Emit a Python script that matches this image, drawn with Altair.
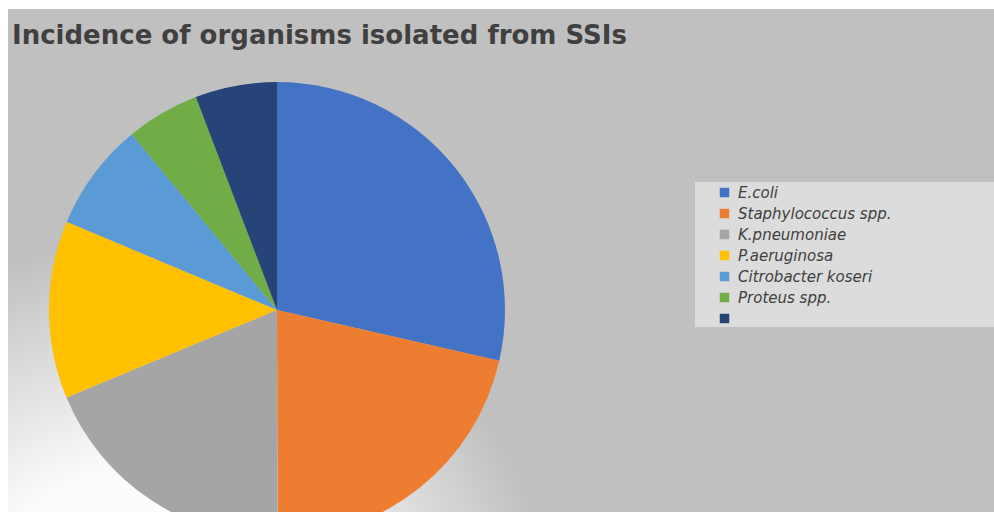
import altair as alt
import pandas as pd

# Data (percent share of isolates)
organisms = ["E.coli", "Staphylococcus spp.", "K.pneumoniae", "P.aeruginosa",
             "Citrobacter koseri", "Proteus spp.", "Other"]
shares = [28.6, 21.4, 18.8, 12.6, 7.7, 5.2, 5.8]
colors = ["#4472C4", "#ED7D31", "#A5A5A5", "#FFC000", "#5B9BD5", "#70AD47", "#264478"]
title_text = "Incidence of organisms isolated from SSIs"

df = pd.DataFrame({"organism": organisms, "share": shares, "order": list(range(len(organisms)))})

W, H = 994, 512

bg = alt.Chart(pd.DataFrame({"k": [0]})).mark_rect(
    color=alt.Gradient(
        gradient="radial",
        stops=[alt.GradientStop(color="#ffffff", offset=0),
               alt.GradientStop(color="#fbfbfb", offset=0.45),
               alt.GradientStop(color="#d6d6d6", offset=0.8),
               alt.GradientStop(color="#c0c0c0", offset=1)],
        x1=0.14, y1=0.9, r1=0, x2=0.14, y2=0.9, r2=0.42,
    )
).encode(x=alt.value(8), x2=alt.value(W), y=alt.value(9), y2=alt.value(H))

legend_box = alt.Chart(pd.DataFrame({"k": [0]})).mark_rect(color="#dcdcdc").encode(
    x=alt.value(695), x2=alt.value(W), y=alt.value(182), y2=alt.value(327)
)

pie = alt.Chart(df).mark_arc(outerRadius=228, stroke=None).encode(
    theta=alt.Theta("share:Q", stack=True),
    order=alt.Order("order:Q"),
    color=alt.Color(
        "organism:N",
        scale=alt.Scale(domain=organisms, range=colors),
        sort=organisms,
        legend=alt.Legend(
            title=None,
            orient="none",
            legendX=717,
            legendY=185,
            symbolType="square",
            symbolSize=90,
            symbolStrokeWidth=0,
            labelFont="DejaVu Sans",
            labelFontStyle="italic",
            labelFontSize=15,
            labelColor="#404040",
            labelOffset=6,
            rowPadding=5,
            labelLimit=300,
            labelExpr="datum.label == 'Other' ? '' : datum.label",
        ),
    ),
    x=alt.value(277),
    y=alt.value(310),
)

title = alt.Chart(pd.DataFrame({"t": [title_text]})).mark_text(
    align="left", baseline="alphabetic", font="DejaVu Sans", fontWeight="bold",
    fontSize=26, color="#404040"
).encode(x=alt.value(12), y=alt.value(44), text="t:N")

chart = alt.layer(bg, legend_box, pie, title).properties(
    width=W, height=H, padding=0, autosize=alt.AutoSizeParams(type="none"),
    background="#ffffff"
).configure_view(stroke=None)

chart.save("out.html", embed_options={"renderer": "svg", "actions": False})
